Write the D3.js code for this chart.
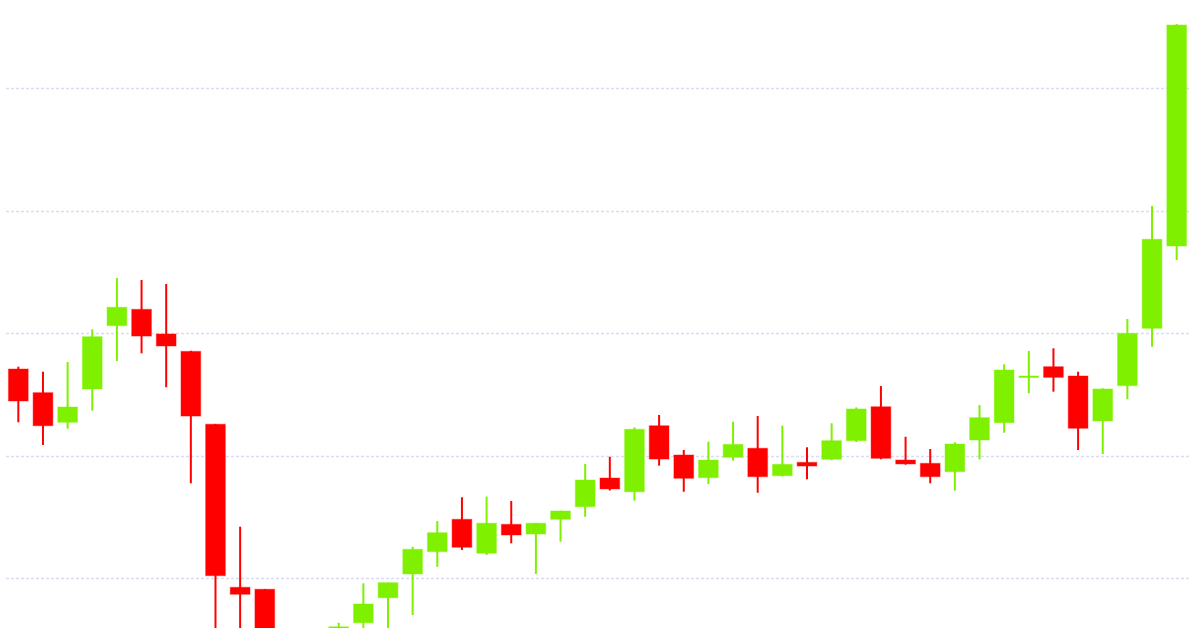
<!DOCTYPE html>
<html>
<head>
<meta charset="utf-8">
<script src="https://cdn.jsdelivr.net/npm/d3@7"></script>
<style>
  html, body { margin: 0; padding: 0; background: #ffffff; overflow: hidden; }
  svg { display: block; }
</style>
</head>
<body>
<svg id="chart" width="1200" height="628"></svg>
<script>
// ---- data (candles partly below the visible area are estimates) ----
const periods = d3.range(1, 49).map(d => "P" + d);
const opens  = [7706,7513,7271,7543,8060,8193,7992,7850,7255,5924,5908,5350,5200,5400,5635,5839,6033,6215,6479,6202,6438,6359,6479,6582,6816,6704,7243,7004,6819,6985,7059,6835,6944,6969,7121,7398,6963,6936,6868,7127,7268,7637,7725,7649,7282,7570,8038,8710];
const highs  = [7725,7684,7763,8030,8449,8433,8400,7855,7258,6419,5910,5400,5450,5635,5957,5962,6256,6465,6659,6664,6629,6450,6550,6931,6990,7229,7331,7045,7113,7276,7322,7243,7067,7263,7393,7567,7153,7053,7108,7412,7744,7853,7875,7684,7549,8114,9037,10522];
const lows   = [7271,7086,7219,7366,7771,7834,7557,6773,5400,5500,5250,5100,5150,5350,5550,5550,5698,6092,6229,6188,6283,6033,6296,6500,6714,6631,6917,6704,6767,6958,6696,6830,6806,6962,7110,6969,6925,6773,6713,6969,7186,7508,7521,7045,7012,7459,7888,8596];
const closes = [7445,7243,7396,7970,8210,7975,7894,7322,6019,5867,5350,5200,5400,5602,5788,5962,6234,6370,6251,6447,6351,6447,6547,6800,6727,7214,6971,6814,6963,7091,6827,6928,6914,7121,7380,6977,6931,6827,7094,7309,7698,7649,7638,7222,7543,7997,8765,10514];
const gridValues = [6000, 7000, 8000, 9000, 10000];

const candles = periods.map((p, i) => ({p, o: opens[i], h: highs[i], l: lows[i], c: closes[i]}));

const UP = "#7ff000", DOWN = "#ff0000";

const svg = d3.select("#chart");
const x = d3.scaleBand().domain(periods).range([6, 1189]).paddingInner(0.2).paddingOuter(0.1);
const y = d3.scaleLinear().domain([6000, 10000]).range([578, 88]);

// grid
const grid = svg.append("g").attr("class", "grid");
grid.selectAll("line").data(gridValues).join("line")
  .attr("x1", 6).attr("x2", 1189)
  .attr("y1", d => Math.round(y(d)) + 0.5).attr("y2", d => Math.round(y(d)) + 0.5)
  .attr("stroke", "#d9dcf2").attr("stroke-width", 1.5)
  .attr("stroke-dasharray", "3,2");

const g = svg.append("g");
const col = d => d.c >= d.o ? UP : DOWN;

g.selectAll("line.wick").data(candles).join("line")
  .attr("class", "wick")
  .attr("x1", d => x(d.p) + x.bandwidth() / 2)
  .attr("x2", d => x(d.p) + x.bandwidth() / 2)
  .attr("y1", d => y(d.h)).attr("y2", d => y(d.l))
  .attr("stroke", col).attr("stroke-width", 2);

g.selectAll("rect.body").data(candles).join("rect")
  .attr("class", "body")
  .attr("x", d => x(d.p))
  .attr("width", x.bandwidth())
  .attr("y", d => y(Math.max(d.o, d.c)))
  .attr("height", d => Math.max(1.5, Math.abs(y(d.o) - y(d.c))))
  .attr("fill", col)
  .attr("stroke", col).attr("stroke-opacity", 0.35).attr("stroke-width", 1.2);
</script>
</body>
</html>
